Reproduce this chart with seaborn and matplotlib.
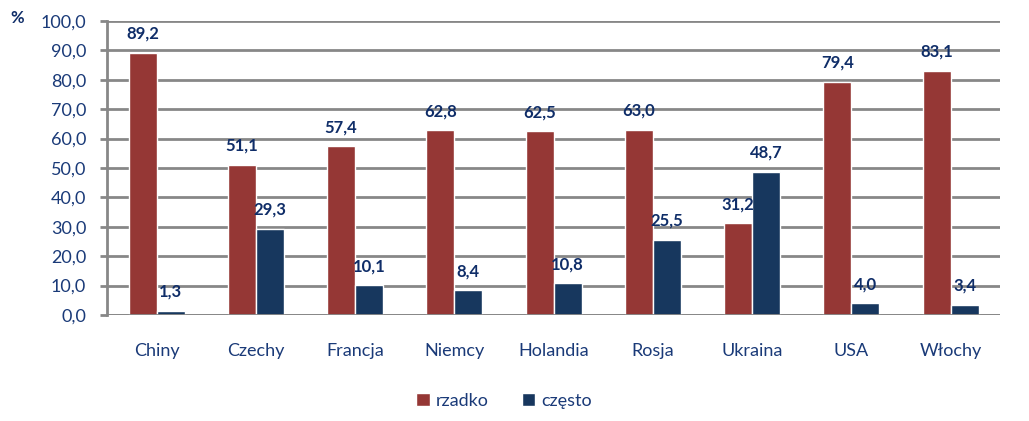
import pandas as pd
import numpy as np
import seaborn as sns
import matplotlib.pyplot as plt
from matplotlib.ticker import FixedLocator, FuncFormatter

# data
countries = ['Chiny', 'Czechy', 'Francja', 'Niemcy', 'Holandia', 'Rosja', 'Ukraina', 'USA', 'Włochy']
rzadko = [89.2, 51.1, 57.4, 62.8, 62.5, 63.0, 31.2, 79.4, 83.1]
czesto = [1.3, 29.3, 10.1, 8.4, 10.8, 25.5, 48.7, 4.0, 3.4]
series = ['rzadko', 'często']
colors = ['#953735', '#17375E']

df = pd.DataFrame({
    'kraj': countries * 2,
    'seria': [series[0]] * len(countries) + [series[1]] * len(countries),
    'wartosc': rzadko + czesto,
})

sns.set_style('white')
plt.rcParams['font.family'] = ['Lato', 'DejaVu Sans']

text_col = '#1A3A78'
label_col = '#0F2D68'
grid_col = '#878787'

fig = plt.figure(figsize=(10.29, 4.21), dpi=100)
ax = fig.add_axes([0.104, 0.252, 0.868, 0.698])

sns.barplot(data=df, x='kraj', y='wartosc', hue='seria', palette=colors,
            width=0.565, ax=ax, legend=True, saturation=1, zorder=3)

ax.set_ylim(0, 100)
ax.set_xlim(-0.5, len(countries) - 0.5)
ax.set_yticks(np.arange(0, 101, 10))
ax.yaxis.set_major_formatter(FuncFormatter(lambda v, p: f'{v:.1f}'.replace('.', ',')))
ax.grid(axis='y', color=grid_col, linewidth=2, zorder=0)
ax.set_axisbelow(True)

for s in ['top', 'right', 'bottom']:
    ax.spines[s].set_visible(False)
ax.spines['left'].set_color(grid_col)
ax.spines['left'].set_linewidth(2)

# x axis line at 0 and category boundary ticks
ax.axhline(0, color=grid_col, linewidth=2, zorder=4)
ax.xaxis.set_minor_locator(FixedLocator(np.arange(-0.5, len(countries), 1)))
ax.tick_params(axis='x', which='major', length=0, pad=20, labelsize=13, labelcolor=text_col)
ax.tick_params(axis='x', which='minor', length=6, width=2, color=grid_col, direction='out')
ax.tick_params(axis='y', length=5, width=2, color=grid_col, pad=10, labelsize=13, labelcolor=text_col, left=True)
ax.set_xlabel('')
ax.set_ylabel('')

for cont in ax.containers:
    ax.bar_label(cont, labels=[f'{v:.1f}'.replace('.', ',') for v in cont.datavalues],
                 padding=8, fontsize=12, fontweight='bold', color=label_col)

fig.text(0.01, 0.957, '%', fontsize=12, fontweight='bold', color=label_col, va='center')

handles, labels = ax.get_legend_handles_labels()
ax.get_legend().remove()
fig.legend(handles, labels, loc='center', bbox_to_anchor=(0.49, 0.048), ncol=2, frameon=False,
           fontsize=13, labelcolor=text_col, handlelength=0.75, handleheight=0.75,
           handletextpad=0.35, columnspacing=1.8)

plt.savefig('out.png', dpi=100)
